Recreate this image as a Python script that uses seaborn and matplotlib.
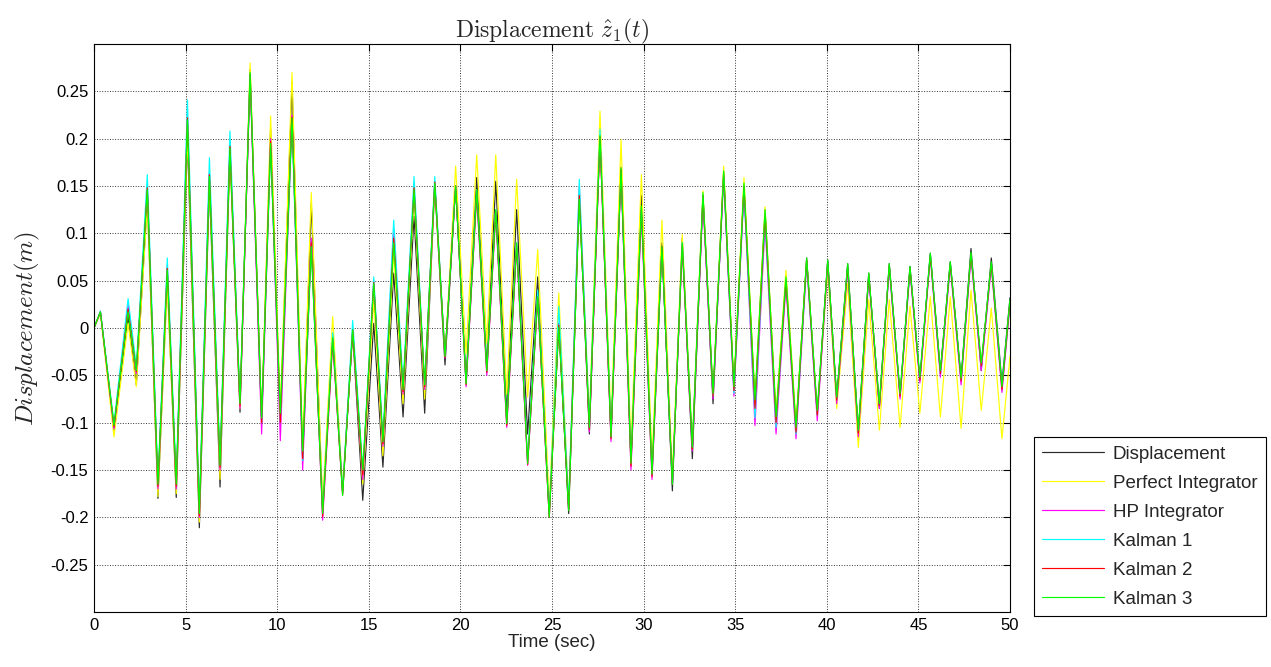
import numpy as np
import pandas as pd
import matplotlib
matplotlib.use("Agg")
import matplotlib.pyplot as plt
import seaborn as sns

# Turning-point times (s)
time_s = [0.0, 0.35, 1.09, 1.86, 2.31, 2.91, 3.49, 4.00, 4.49, 5.10,
          5.75, 6.30, 6.88, 7.42, 7.97, 8.52, 9.15, 9.64, 10.17, 10.81,
          11.39, 11.86, 12.48, 13.03, 13.57, 14.12, 14.67, 15.27, 15.77, 16.36,
          16.87, 17.47, 18.05, 18.60, 19.16, 19.74, 20.31, 20.89, 21.44, 21.93,
          22.53, 23.07, 23.67, 24.22, 24.85, 25.37, 25.91, 26.49, 27.04, 27.62,
          28.22, 28.77, 29.31, 29.88, 30.46, 31.00, 31.57, 32.11, 32.66, 33.24,
          33.79, 34.37, 34.93, 35.48, 36.08, 36.63, 37.23, 37.77, 38.32, 38.90,
          39.48, 40.05, 40.54, 41.14, 41.72, 42.29, 42.87, 43.41, 44.00, 44.54,
          45.08, 45.65, 46.20, 46.74, 47.33, 47.87, 48.43, 48.98, 49.56, 50.00]

displacement = [0.0, 0.017, -0.108, 0.012, -0.060, 0.135, -0.180, 0.052, -0.179, 0.200,
                -0.211, 0.150, -0.168, 0.185, -0.089, 0.273, -0.100, 0.210, -0.095, 0.259,
                -0.140, 0.132, -0.190, -0.006, -0.172, -0.005, -0.182, 0.005, -0.147, 0.058,
                -0.094, 0.118, -0.090, 0.150, -0.039, 0.150, -0.055, 0.159, -0.040, 0.155,
                -0.090, 0.125, -0.112, 0.054, -0.195, 0.005, -0.196, 0.140, -0.112, 0.205,
                -0.115, 0.170, -0.140, 0.140, -0.150, 0.090, -0.172, 0.095, -0.138, 0.140,
                -0.080, 0.165, -0.065, 0.150, -0.080, 0.125, -0.095, 0.055, -0.105, 0.074,
                -0.090, 0.072, -0.073, 0.068, -0.110, 0.058, -0.085, 0.068, -0.072, 0.065,
                -0.055, 0.079, -0.045, 0.070, -0.053, 0.084, -0.045, 0.074, -0.058, 0.032]

perfect_integrator = [0.0, 0.015, -0.115, 0.005, -0.062, 0.130, -0.178, 0.045, -0.175, 0.205,
                      -0.205, 0.155, -0.160, 0.185, -0.085, 0.280, -0.095, 0.224, -0.085, 0.270,
                      -0.125, 0.143, -0.185, 0.012, -0.170, 0.000, -0.165, 0.030, -0.135, 0.080,
                      -0.080, 0.140, -0.075, 0.150, -0.030, 0.171, -0.027, 0.183, -0.016, 0.183,
                      -0.070, 0.157, -0.073, 0.083, -0.185, 0.037, -0.185, 0.145, -0.095, 0.229,
                      -0.100, 0.199, -0.125, 0.162, -0.140, 0.114, -0.155, 0.099, -0.120, 0.145,
                      -0.070, 0.171, -0.060, 0.159, -0.075, 0.128, -0.090, 0.061, -0.100, 0.072,
                      -0.088, 0.060, -0.085, 0.047, -0.126, 0.030, -0.108, 0.030, -0.105, 0.023,
                      -0.090, 0.033, -0.094, 0.033, -0.106, 0.040, -0.087, 0.021, -0.117, -0.030]

hp_integrator = [0.0, 0.017, -0.106, 0.025, -0.048, 0.150, -0.170, 0.066, -0.170, 0.225,
                 -0.200, 0.165, -0.150, 0.195, -0.085, 0.265, -0.112, 0.200, -0.119, 0.225,
                 -0.150, 0.095, -0.203, -0.015, -0.175, -0.002, -0.160, 0.050, -0.125, 0.105,
                 -0.070, 0.150, -0.065, 0.155, -0.032, 0.150, -0.062, 0.140, -0.050, 0.120,
                 -0.105, 0.085, -0.145, 0.030, -0.200, 0.005, -0.190, 0.150, -0.110, 0.200,
                 -0.120, 0.165, -0.150, 0.120, -0.160, 0.085, -0.165, 0.085, -0.130, 0.135,
                 -0.075, 0.160, -0.072, 0.145, -0.103, 0.110, -0.112, 0.045, -0.117, 0.068,
                 -0.098, 0.068, -0.080, 0.062, -0.115, 0.053, -0.085, 0.063, -0.075, 0.060,
                 -0.058, 0.075, -0.052, 0.065, -0.060, 0.075, -0.045, 0.065, -0.068, 0.025]

kalman_1 = [0.0, 0.018, -0.100, 0.031, -0.040, 0.162, -0.160, 0.074, -0.160, 0.241,
            -0.190, 0.180, -0.140, 0.208, -0.078, 0.268, -0.100, 0.190, -0.100, 0.215,
            -0.140, 0.085, -0.195, -0.005, -0.172, 0.008, -0.150, 0.054, -0.115, 0.114,
            -0.060, 0.160, -0.060, 0.160, -0.030, 0.150, -0.059, 0.146, -0.045, 0.125,
            -0.100, 0.090, -0.140, 0.040, -0.195, 0.023, -0.185, 0.157, -0.100, 0.210,
            -0.110, 0.165, -0.140, 0.125, -0.155, 0.085, -0.165, 0.090, -0.125, 0.140,
            -0.072, 0.160, -0.069, 0.145, -0.095, 0.115, -0.105, 0.050, -0.112, 0.070,
            -0.092, 0.070, -0.075, 0.065, -0.110, 0.055, -0.080, 0.065, -0.070, 0.062,
            -0.052, 0.078, -0.048, 0.068, -0.055, 0.078, -0.040, 0.068, -0.062, 0.028]

kalman_2 = [0.0, 0.017, -0.104, 0.020, -0.046, 0.148, -0.167, 0.063, -0.167, 0.222,
            -0.198, 0.162, -0.147, 0.192, -0.082, 0.268, -0.100, 0.197, -0.100, 0.223,
            -0.138, 0.090, -0.199, -0.012, -0.176, -0.002, -0.155, 0.048, -0.122, 0.095,
            -0.067, 0.148, -0.062, 0.154, -0.031, 0.150, -0.060, 0.143, -0.047, 0.123,
            -0.103, 0.088, -0.144, 0.032, -0.200, 0.003, -0.192, 0.140, -0.107, 0.202,
            -0.117, 0.167, -0.146, 0.125, -0.157, 0.086, -0.165, 0.088, -0.128, 0.140,
            -0.072, 0.163, -0.066, 0.150, -0.085, 0.120, -0.100, 0.050, -0.110, 0.072,
            -0.092, 0.070, -0.076, 0.065, -0.111, 0.056, -0.082, 0.066, -0.072, 0.063,
            -0.055, 0.077, -0.048, 0.068, -0.056, 0.078, -0.040, 0.068, -0.065, 0.028]

kalman_3 = [0.0, 0.017, -0.103, 0.017, -0.045, 0.146, -0.165, 0.061, -0.165, 0.220,
            -0.196, 0.160, -0.145, 0.190, -0.080, 0.270, -0.095, 0.195, -0.090, 0.222,
            -0.130, 0.086, -0.196, -0.010, -0.177, -0.002, -0.150, 0.047, -0.120, 0.090,
            -0.065, 0.146, -0.060, 0.153, -0.030, 0.150, -0.059, 0.146, -0.045, 0.125,
            -0.101, 0.090, -0.143, 0.033, -0.200, 0.001, -0.193, 0.136, -0.105, 0.203,
            -0.115, 0.169, -0.143, 0.129, -0.154, 0.086, -0.165, 0.090, -0.126, 0.143,
            -0.069, 0.166, -0.062, 0.153, -0.076, 0.125, -0.094, 0.054, -0.105, 0.074,
            -0.087, 0.072, -0.073, 0.068, -0.108, 0.058, -0.080, 0.068, -0.069, 0.065,
            -0.052, 0.079, -0.045, 0.070, -0.053, 0.080, -0.037, 0.070, -0.062, 0.030]

series_names = ["Displacement", "Perfect Integrator", "HP Integrator",
                "Kalman 1", "Kalman 2", "Kalman 3"]
series_values = [displacement, perfect_integrator, hp_integrator,
                 kalman_1, kalman_2, kalman_3]
series_colors = ["#2a2a2a", "#ffff00", "#ff00ff", "#00ffff", "#ff0000", "#00ff00"]

x_ticks = [0, 5, 10, 15, 20, 25, 30, 35, 40, 45, 50]
y_ticks = [-0.25, -0.2, -0.15, -0.1, -0.05, 0, 0.05, 0.1, 0.15, 0.2, 0.25]
y_tick_labels = ["-0.25", "-0.2", "-0.15", "-0.1", "-0.05", "0",
                 "0.05", "0.1", "0.15", "0.2", "0.25"]

sns.set_theme(style="white")
plt.rcParams["font.family"] = ["Liberation Sans", "DejaVu Sans"]
plt.rcParams["mathtext.fontset"] = "cm"

fig = plt.figure(figsize=(12.71, 6.67), dpi=100)
fig.patch.set_facecolor("white")
ax = fig.add_axes([94 / 1271, 1 - 612 / 667, (1010 - 94) / 1271, (612 - 44) / 667])
ax.set_facecolor("white")

for name, vals, col in zip(series_names, series_values, series_colors):
    df = pd.DataFrame({"t": time_s, "v": vals})
    sns.lineplot(data=df, x="t", y="v", color=col, label=name, ax=ax,
                 linewidth=0.85, sort=False, estimator=None)

ax.set_xlim(0, 50)
ax.set_ylim(-0.3, 0.3)
ax.set_xticks(x_ticks)
ax.set_xticklabels([str(v) for v in x_ticks])
ax.set_yticks(y_ticks)
ax.set_yticklabels(y_tick_labels)
ax.tick_params(direction="in", length=5, width=0.8, top=True, right=True,
               labelsize=12, colors="black", pad=4)
ax.grid(True, color="#333333", linestyle=":", linewidth=0.7)
for sp in ax.spines.values():
    sp.set_visible(True)
    sp.set_color("black")
    sp.set_linewidth(0.8)

ax.set_title(r"$\mathrm{Displacement}\ \hat{z}_1(t)$", fontsize=17, pad=5)
ax.set_xlabel("Time (sec)", fontsize=13.5, labelpad=1)
ax.set_ylabel(r"$Displacement(m)$", fontsize=18, labelpad=6)

ax.get_legend().remove()
handles, labels = ax.get_legend_handles_labels()
leg = fig.legend(handles, labels, loc="lower left",
                 bbox_to_anchor=(1034 / 1271, 1 - 616 / 667),
                 frameon=True, fancybox=False, framealpha=1, edgecolor="black",
                 fontsize=13.5, handlelength=3.3, handletextpad=0.45,
                 labelspacing=0.63, borderpad=0.45, borderaxespad=0)
leg.get_frame().set_linewidth(0.8)

fig.savefig("out.png", dpi=100, facecolor="white")
